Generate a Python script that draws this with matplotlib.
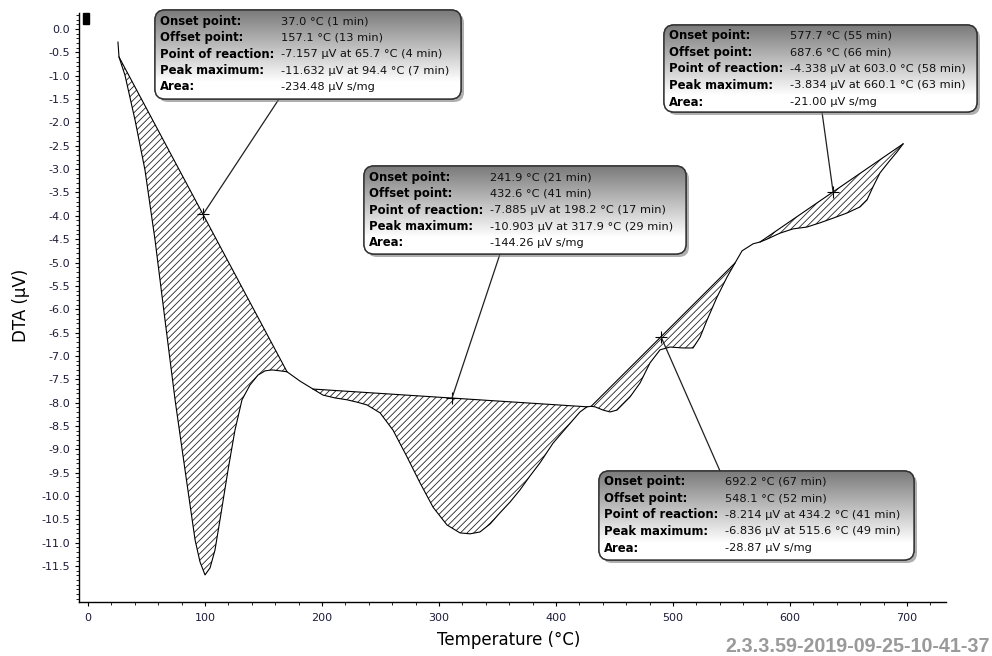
import numpy as np
import matplotlib
matplotlib.use('Agg')
import matplotlib.pyplot as plt
from matplotlib.patches import FancyBboxPatch, Rectangle, ConnectionPatch
from matplotlib.ticker import MultipleLocator, FixedLocator

# DTA curve (°C, µV)
temperature = [25.6, 26.5, 31.6, 40.2, 48.7, 57.3, 65.8, 74.4, 82.9, 91.5, 95.7, 100.0,
               104.3, 108.5, 112.8, 119.7, 125.6, 131.6, 138.5, 145.3, 151.3, 157.3, 164.1,
               170.1, 181.2, 192.3, 200.9, 211.1, 221.4, 229.9, 238.5, 249.6, 260.7, 272.6,
               283.8, 294.9, 306.8, 317.9, 326.5, 335.0, 343.6, 352.1, 360.7, 369.2, 377.8,
               386.3, 397.4, 409.4, 420.5, 426.5, 430.0, 433.3, 440.2, 446.2, 452.1, 463.2,
               471.8, 480.3, 488.9, 497.4, 508.5, 517.1, 523.1, 529.1, 537.6, 546.2, 553.0,
               559.0, 568.4, 574.4, 580.3, 591.5, 602.6, 614.5, 625.6, 636.8, 648.7, 659.8,
               665.8, 670.9, 676.9, 685.5, 691.5, 696.6]
dta = [-0.28, -0.60, -0.99, -1.95, -3.02, -4.52, -6.23, -7.94, -9.44, -10.94, -11.41, -11.69,
       -11.54, -11.16, -10.51, -9.44, -8.59, -7.94, -7.62, -7.41, -7.32, -7.30, -7.32,
       -7.34, -7.54, -7.71, -7.84, -7.90, -7.94, -7.99, -8.05, -8.22, -8.59, -9.16,
       -9.72, -10.24, -10.62, -10.79, -10.81, -10.77, -10.60, -10.36, -10.13, -9.87, -9.57,
       -9.29, -8.87, -8.52, -8.20, -8.09, -8.08, -8.09, -8.16, -8.20, -8.16, -7.88,
       -7.58, -7.15, -6.87, -6.81, -6.83, -6.83, -6.60, -6.23, -5.74, -5.31, -5.01,
       -4.75, -4.60, -4.56, -4.50, -4.37, -4.28, -4.24, -4.15, -4.05, -3.94, -3.81,
       -3.66, -3.38, -3.08, -2.81, -2.63, -2.46]

# integration limits of each evaluated peak and where the leader points
peak_start = [26.5, 192.3, 430.0, 574.4]
peak_end = [170.1, 426.5, 553.0, 696.6]
marker_temp = [98.3, 311.1, 489.7, 636.8]

row_labels = ['Onset point:', 'Offset point:', 'Point of reaction:', 'Peak maximum:', 'Area:']
onset = ['37.0 °C (1 min)', '241.9 °C (21 min)', '692.2 °C (67 min)', '577.7 °C (55 min)']
offset = ['157.1 °C (13 min)', '432.6 °C (41 min)', '548.1 °C (52 min)', '687.6 °C (66 min)']
reaction = ['-7.157 µV at 65.7 °C (4 min)', '-7.885 µV at 198.2 °C (17 min)',
            '-8.214 µV at 434.2 °C (41 min)', '-4.338 µV at 603.0 °C (58 min)']
peak_max = ['-11.632 µV at 94.4 °C (7 min)', '-10.903 µV at 317.9 °C (29 min)',
            '-6.836 µV at 515.6 °C (49 min)', '-3.834 µV at 660.1 °C (63 min)']
area = ['-234.48 µV s/mg', '-144.26 µV s/mg', '-28.87 µV s/mg', '-21.00 µV s/mg']

# box layout in image pixels: left, top, width, height, leader anchor x, anchor y
boxes = [(155, 10, 306, 89, 279, 99),
         (364, 166, 322, 88, 500, 254),
         (599, 471, 315, 89, 720, 471),
         (664, 25, 313, 87, 822, 112)]

plt.rcParams['font.family'] = 'DejaVu Sans'
plt.rcParams['hatch.linewidth'] = 0.6

W, H = 992, 656
fig = plt.figure(figsize=(W / 100, H / 100), dpi=100)
ax = fig.add_axes([79 / W, 54 / H, 867 / W, 589 / H])

T = np.array(temperature)
V = np.array(dta)
ax.plot(T, V, color='black', lw=0.8, zorder=3)


def baseline(i):
    m = (T >= peak_start[i] - 1e-6) & (T <= peak_end[i] + 1e-6)
    t = T[m]
    v0, v1 = V[m][0], V[m][-1]
    return m, t, v0, v1


markers = []
for i in range(4):
    m, t, v0, v1 = baseline(i)
    base = v0 + (t - t[0]) * (v1 - v0) / (t[-1] - t[0])
    ax.fill_between(t, V[m], base, facecolor='none', edgecolor='#222222',
                    hatch='/////', linewidth=0, zorder=2)
    ax.plot([t[0], t[-1]], [v0, v1], color='black', lw=0.8, zorder=3)
    vm = v0 + (marker_temp[i] - t[0]) * (v1 - v0) / (t[-1] - t[0])
    markers.append(vm)
    ax.plot(marker_temp[i], vm, marker='+', color='black', ms=9, mew=0.8, zorder=4)

ax.set_xlim(-7.7, 733.3)
ax.set_ylim(-12.27, 0.343)
ax.spines['top'].set_visible(False)
ax.spines['right'].set_visible(False)
ax.spines['left'].set_linewidth(1.0)
ax.spines['bottom'].set_linewidth(1.0)

ax.xaxis.set_major_locator(MultipleLocator(100))
ax.xaxis.set_minor_locator(MultipleLocator(20))
yt = [-0.5 * k for k in range(24)]
ax.yaxis.set_major_locator(FixedLocator(yt))
ax.set_yticklabels(['%.1f' % abs(v) if v == 0 else '%.1f' % v for v in yt])
ax.yaxis.set_minor_locator(MultipleLocator(0.1))
ax.tick_params(which='major', length=3, width=0.8, labelsize=8, labelcolor='#1c1c3a')
ax.tick_params(which='minor', length=2, width=0.6)
ax.tick_params(axis='y', which='major', pad=3.5)
ax.tick_params(axis='x', which='major', pad=5)

ax.set_xlabel('Temperature (°C)', fontsize=12)
ax.set_ylabel('DTA (µV)', fontsize=12)
ax.xaxis.set_label_coords(0.496, -0.05)
ax.yaxis.set_label_coords(-0.056, 0.504)

# overlay in image pixel coordinates for the result boxes
ov = fig.add_axes([0, 0, 1, 1])
ov.set_xlim(0, W)
ov.set_ylim(H, 0)
ov.axis('off')
ov.patch.set_visible(False)

ov.add_patch(Rectangle((83, 13), 6, 11, color='black'))

grad = np.ones((100, 1, 3))
shade = np.clip(0.48 + 0.52 * np.arange(100) / 80.0, 0, 1)
grad[:, 0, :] = shade[:, None]

for i, (x0, y0, bw, bh, lx, ly) in enumerate(boxes):
    cp = ConnectionPatch(xyA=(marker_temp[i], markers[i]), coordsA=ax.transData,
                         xyB=(lx, ly), coordsB=ov.transData, color='#202020', lw=0.9)
    ov.add_artist(cp)

    sh = FancyBboxPatch((x0 + 3, y0 + 3), bw, bh, boxstyle='round,pad=0,rounding_size=10',
                        facecolor='#7a7a7a', edgecolor='none', alpha=0.6, zorder=2)
    ov.add_patch(sh)
    frame = FancyBboxPatch((x0, y0), bw, bh, boxstyle='round,pad=0,rounding_size=10',
                           facecolor='white', edgecolor='#303030', lw=1.0, zorder=3)
    ov.add_patch(frame)
    im = ov.imshow(grad, extent=(x0, x0 + bw, y0 + bh, y0), aspect='auto', zorder=4,
                   interpolation='bilinear')
    im.set_clip_path(frame)
    edge = FancyBboxPatch((x0, y0), bw, bh, boxstyle='round,pad=0,rounding_size=10',
                          facecolor='none', edgecolor='#303030', lw=1.0, zorder=5)
    ov.add_patch(edge)
    vals = [onset[i], offset[i], reaction[i], peak_max[i], area[i]]
    for r in range(5):
        yy = y0 + 11 + 16.5 * r
        ov.text(x0 + 5, yy, row_labels[r], fontsize=8.4, fontweight='bold',
                va='center', ha='left', color='black', zorder=6)
        ov.text(x0 + 126, yy, vals[r], fontsize=8.2, va='center', ha='left',
                color='#111111', zorder=6)

ov.set_xlim(0, W)
ov.set_ylim(H, 0)

fig.text(990 / W, 9 / H, '2.3.3.59-2019-09-25-10-41-37', ha='right', va='center',
         fontsize=14.2, fontweight='bold', color='#9a9a9a', family='Liberation Sans')

fig.savefig('out.png', dpi=100)
